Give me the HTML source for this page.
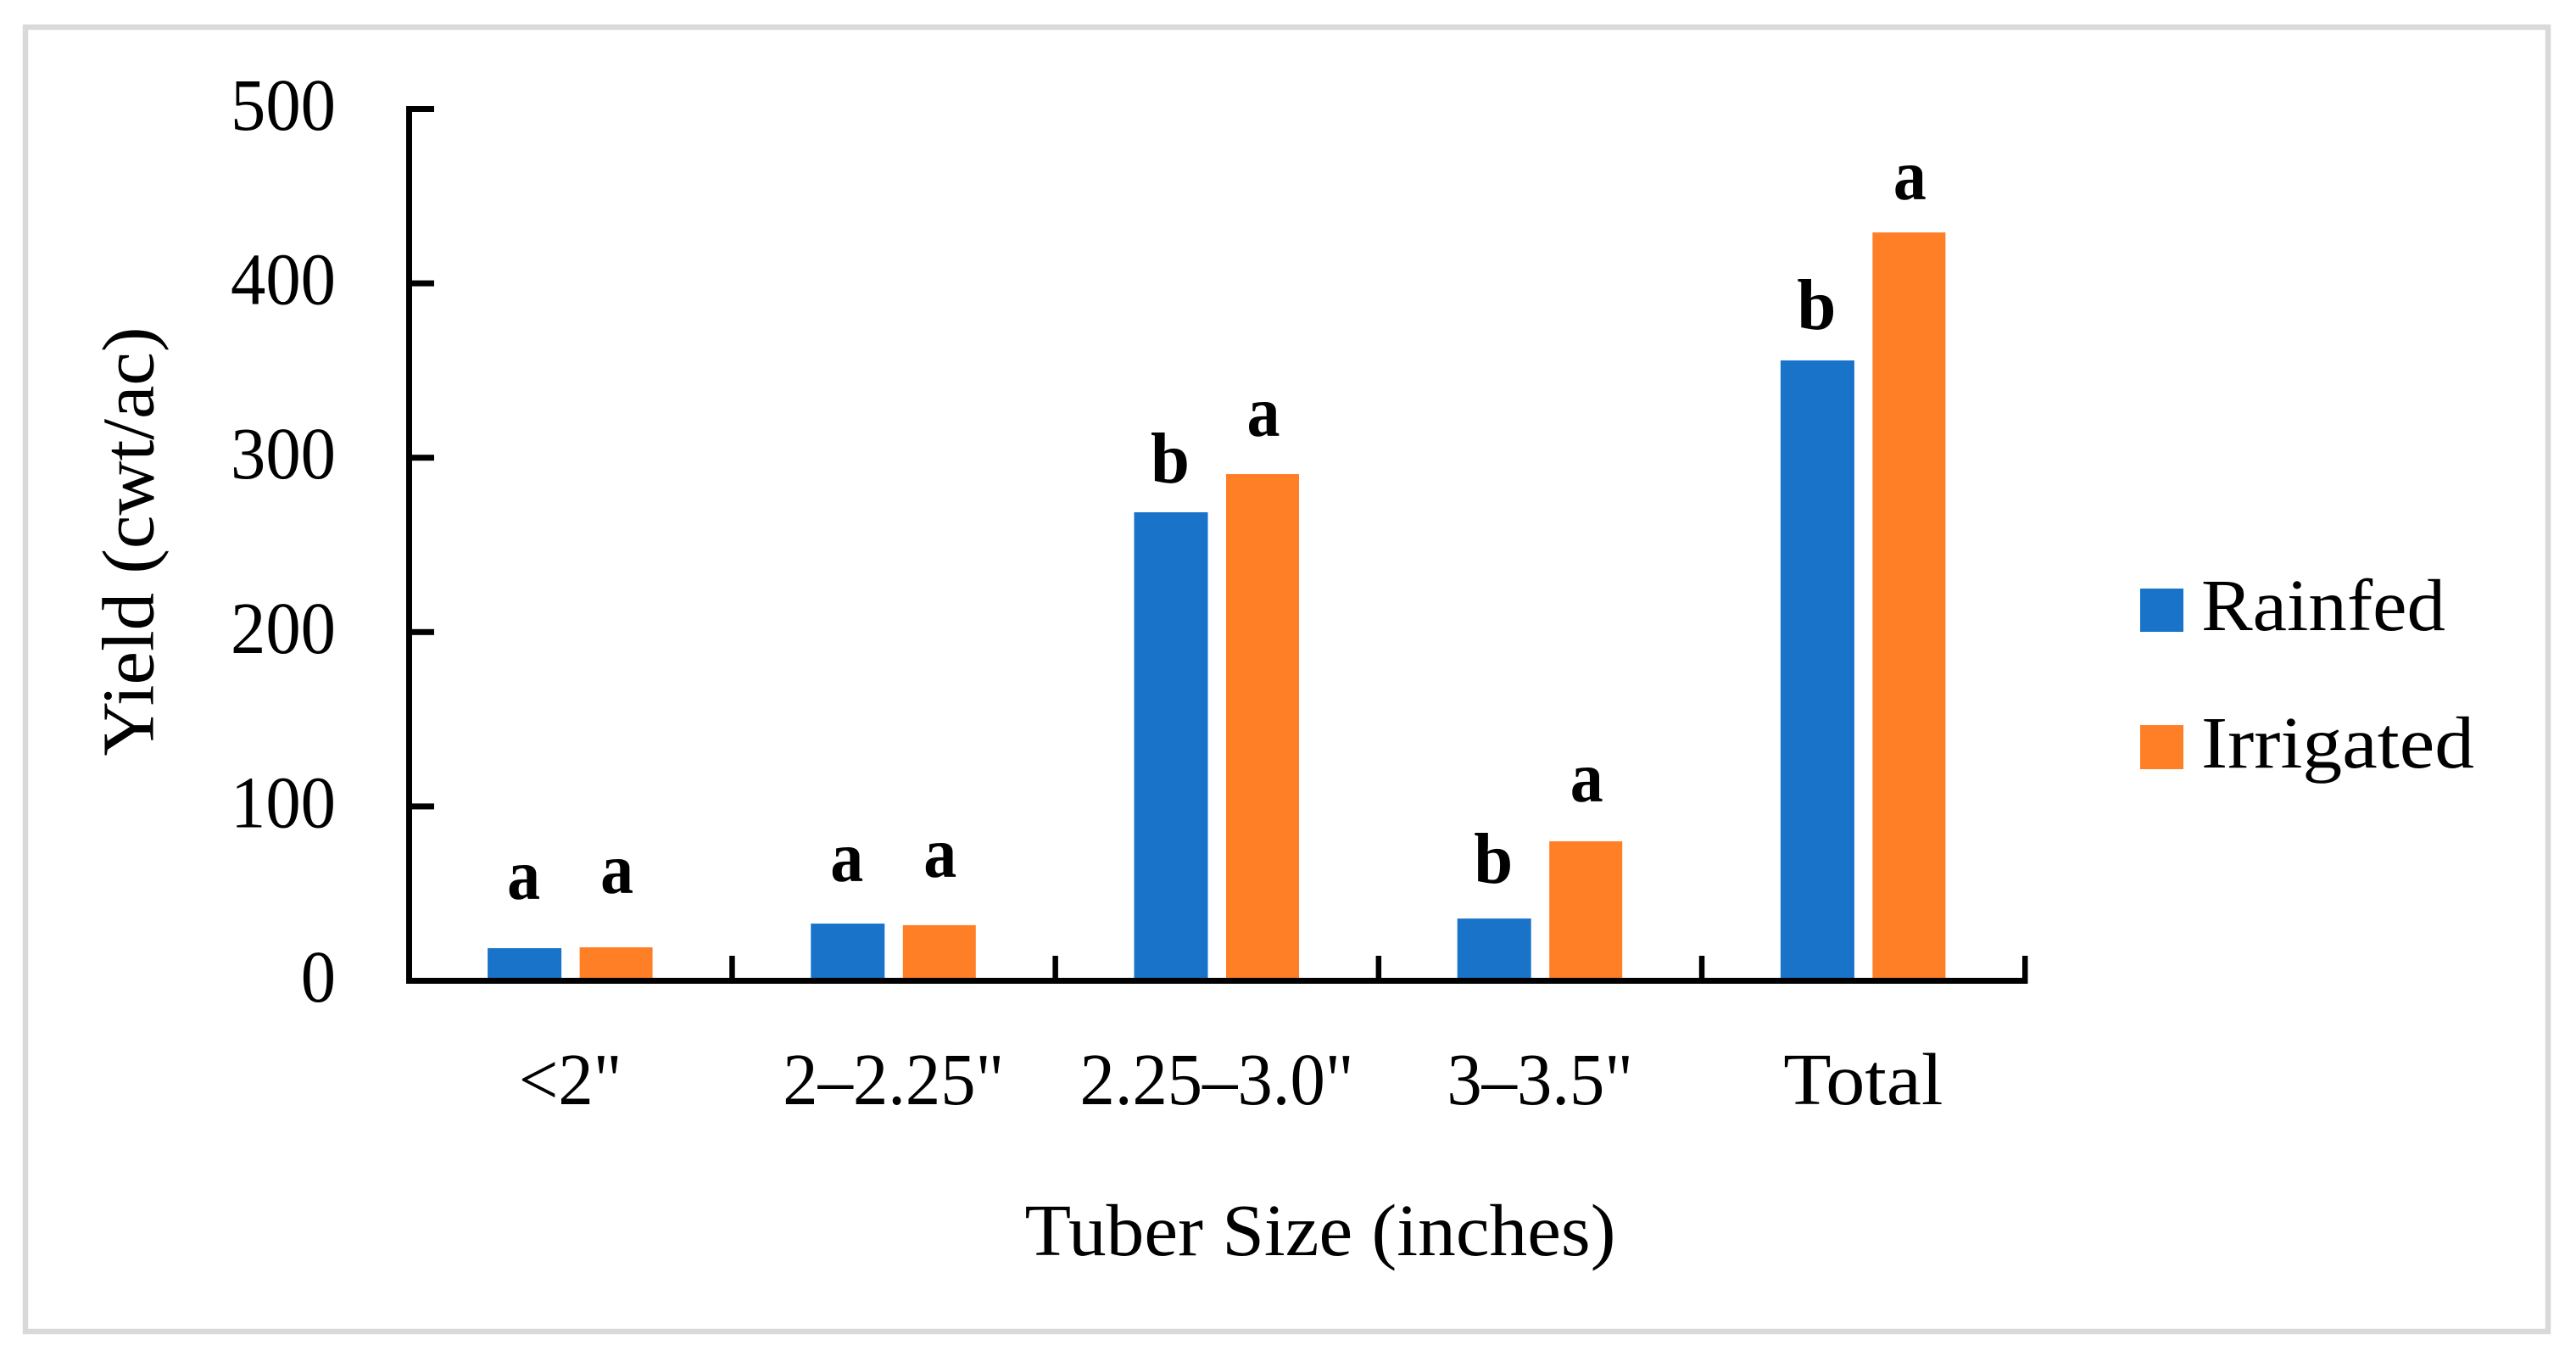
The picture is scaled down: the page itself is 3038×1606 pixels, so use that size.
<!DOCTYPE html>
<html lang="en">
<head>
<meta charset="utf-8">
<title>Tuber yield by size</title>
<style>
html,body{margin:0;padding:0;background:#fff;}
svg{display:block;}
text{font-family:"Liberation Serif",serif;fill:#000;}
</style>
</head>
<body>
<svg id="chart" xmlns="http://www.w3.org/2000/svg" width="3038" height="1606" viewBox="0 0 3038 1606">
  <rect x="0" y="0" width="3038" height="1606" fill="#fff"/>
  <rect x="30" y="32" width="2975" height="1538" fill="none" stroke="#d9d9d9" stroke-width="6.5"/>
  <g id="marks"></g>
  <g id="letters"></g>
  <g id="axes"></g>
  <text font-size="87" transform="translate(180.5,891.5) rotate(-90)" textLength="506" lengthAdjust="spacingAndGlyphs">Yield (cwt/ac)</text>
  <text font-size="87" x="1208.5" y="1480" textLength="697" lengthAdjust="spacingAndGlyphs">Tuber Size (inches)</text>
  <g>
    <g>
      <rect x="2524" y="694" width="51" height="51" fill="#1873c9"/>
      <text font-size="87" x="2596" y="743" textLength="288" lengthAdjust="spacingAndGlyphs">Rainfed</text>
    </g>
    <g>
      <rect x="2524" y="855" width="51" height="52" fill="#ff7f27"/>
      <text font-size="87" x="2596" y="905" textLength="322" lengthAdjust="spacingAndGlyphs">Irrigated</text>
    </g>
  </g>
</svg>
<script>
const categories = ['<2"', '2\u20132.25"', '2.25\u20133.0"', '3\u20133.5"', 'Total'];
const rainfedValues = [18.7, 32.8, 268.7, 35.7, 355.8];
const irrigatedValues = [19.2, 31.9, 290.6, 80.0, 429.2];
const rainfedLetters = ['a', 'a', 'b', 'b', 'b'];
const irrigatedLetters = ['a', 'a', 'a', 'a', 'a'];
const rainfedLetterGaps = [28.2, 24.3, 17.0, 20.4, 18.0];
const irrigatedLetterGaps = [31.1, 27.7, 21.9, 22.9, 19.0];
const yTicks = [0, 100, 200, 300, 400, 500];

const NS = 'http://www.w3.org/2000/svg';
const plotLeft = 482, bandWidth = 381.2, plotBottom = 1156.5, unitHeight = 2.056;
const yScale = v => plotBottom - v * unitHeight;
const bandCenter = i => plotLeft + bandWidth * (i + 0.5);
const bandEdge = i => plotLeft + bandWidth * i;

function make(tag, attrs, parent, content) {
  const el = document.createElementNS(NS, tag);
  for (const k in attrs) el.setAttribute(k, attrs[k]);
  if (content !== undefined) el.textContent = content;
  parent.appendChild(el);
  return el;
}
function squeeze(el, factor) {
  el.setAttribute('textLength', (el.getComputedTextLength() * factor).toFixed(1));
  el.setAttribute('lengthAdjust', 'spacingAndGlyphs');
}

const marks = document.getElementById('marks');
const letters = document.getElementById('letters');
const axes = document.getElementById('axes');

categories.forEach((cat, i) => {
  const c = bandCenter(i);

  const rBar = make('rect', {x: c - 97.5, y: yScale(rainfedValues[i]), width: 87, height: plotBottom - yScale(rainfedValues[i]), fill: '#1873c9'}, marks);
  
  

  const iBar = make('rect', {x: c + 11, y: yScale(irrigatedValues[i]), width: 86, height: plotBottom - yScale(irrigatedValues[i]), fill: '#ff7f27'}, marks);
  
  

  const rLetter = make('text', {x: c - 55, y: yScale(rainfedValues[i] + rainfedLetterGaps[i]), 'font-size': 85, 'font-weight': 'bold', 'text-anchor': 'middle', textLength: rainfedLetters[i] === 'a' ? 39 : 46, lengthAdjust: 'spacingAndGlyphs'}, letters, rainfedLetters[i]);
  
  

  const iLetter = make('text', {x: c + 55, y: yScale(irrigatedValues[i] + irrigatedLetterGaps[i]), 'font-size': 85, 'font-weight': 'bold', 'text-anchor': 'middle', textLength: irrigatedLetters[i] === 'a' ? 39 : 46, lengthAdjust: 'spacingAndGlyphs'}, letters, irrigatedLetters[i]);
  
  

  const catLabel = make('text', {x: c, y: 1302, 'font-size': 87, 'text-anchor': 'middle'}, axes, cat);
  
  
  squeeze(catLabel, /\d/.test(cat) ? 0.95 : 1.06);
});

const yAxisLine = make('rect', {x: plotLeft - 3, y: yScale(500) - 3.5, width: 7, height: plotBottom - yScale(500) + 7, fill: '#000'}, axes);



const xAxisLine = make('rect', {x: plotLeft - 3, y: plotBottom - 3.5, width: bandWidth * categories.length + 6.5, height: 7, fill: '#000'}, axes);



yTicks.forEach(t => {
  const mark = make('rect', {x: plotLeft, y: yScale(t) - 3.5, width: 30, height: 7, fill: '#000'}, axes);
  
  

  const label = make('text', {x: 396, y: yScale(t) + 24.5, 'font-size': 87, 'text-anchor': 'end'}, axes, String(t));
  
  
  squeeze(label, 0.95);
});

for (let i = 1; i <= categories.length; i++) {
  const mark = make('rect', {x: bandEdge(i) - 3, y: 1127, width: 6.5, height: 30, fill: '#000'}, axes);
  
  
}
</script>
</body>
</html>
